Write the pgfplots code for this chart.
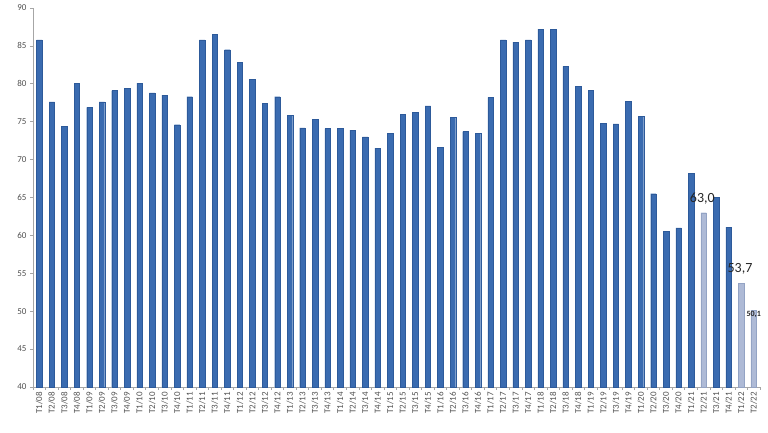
\documentclass[border=0pt]{standalone}
\usepackage{pgfplots}
\pgfplotsset{compat=1.18}
\usepackage{fontspec}
\setmainfont{Carlito}
\definecolor{barfill}{HTML}{3A6BB0}
\definecolor{baredge}{HTML}{2D5A9A}
\definecolor{lightfill}{HTML}{AEBAD6}
\definecolor{lightedge}{HTML}{93A3C4}
\definecolor{axisgray}{HTML}{A6A6A6}
\definecolor{ticktext}{HTML}{505050}
\begin{document}
\begin{tikzpicture}
\begin{axis}[
  scale only axis,
  width=727pt, height=379pt,
  ymin=40, ymax=90,
  xmin=-0.5, xmax=57.5,
  ytick={40,45,...,90},
  axis lines*=left,
  axis line style={axisgray, line width=0.7pt},
  tick style={axisgray, line width=0.7pt},
  tick align=outside,
  major tick length=3pt,
  minor tick length=3pt,
  xtick={0,...,57},
  major x tick style={draw=none},
  minor xtick={-0.5,0.5,...,57.5},
  xticklabels={T1/08,T2/08,T3/08,T4/08,T1/09,T2/09,T3/09,T4/09,T1/10,T2/10,T3/10,T4/10,T1/11,T2/11,T3/11,T4/11,T1/12,T2/12,T3/12,T4/12,T1/13,T2/13,T3/13,T4/13,T1/14,T2/14,T3/14,T4/14,T1/15,T2/15,T3/15,T4/15,T1/16,T2/16,T3/16,T4/16,T1/17,T2/17,T3/17,T4/17,T1/18,T2/18,T3/18,T4/18,T1/19,T2/19,T3/19,T4/19,T1/20,T2/20,T3/20,T4/20,T1/21,T2/21,T3/21,T4/21,T1/22,T2/22},
  xticklabel style={rotate=90, anchor=east, font=\fontsize{9}{9}\selectfont, text=ticktext, inner sep=2pt},
  yticklabel style={font=\fontsize{9}{9}\selectfont, text=ticktext},
  /pgf/number format/assume math mode=true,
  ybar, bar width=5.5pt, bar shift=0pt,
  clip=false,
]
\addplot[draw=baredge, line width=0.3pt, fill=barfill] coordinates {
(0,85.8) (1,77.6) (2,74.4) (3,80.1) (4,76.9) (5,77.6) (6,79.1) (7,79.4)
(8,80.1) (9,78.8) (10,78.5) (11,74.6) (12,78.3) (13,85.8) (14,86.5) (15,84.5)
(16,82.8) (17,80.6) (18,77.4) (19,78.3) (20,75.8) (21,74.2) (22,75.3) (23,74.1)
(24,74.1) (25,73.9) (26,73.0) (27,71.5) (28,73.5) (29,76.0) (30,76.2) (31,77.1)
(32,71.6) (33,75.6) (34,73.7) (35,73.5) (36,78.2) (37,85.8) (38,85.5) (39,85.8)
(40,87.2) (41,87.2) (42,82.3) (43,79.7) (44,79.1) (45,74.8) (46,74.7) (47,77.7)
(48,75.7) (49,65.5) (50,60.5) (51,61.0) (52,68.2) (54,65.0) (55,61.1)
};
\addplot[draw=lightedge, line width=0.3pt, fill=lightfill] coordinates {
(53,63.0) (56,53.7) (57,50.1)
};
\node[font=\fontsize{14}{14}\selectfont, text=black!85] at (axis cs:52.9,64.9) {63,0};
\node[font=\fontsize{14}{14}\selectfont, text=black!85] at (axis cs:55.9,55.6) {53,7};
\node[font=\bfseries\fontsize{8}{8}\selectfont, text=black!85] at (axis cs:57.0,49.6) {50,1};
\end{axis}
\path ([xshift=-33pt,yshift=-45pt]current axis.south west) rectangle ([xshift=8pt,yshift=8pt]current axis.north east);
\end{tikzpicture}
\end{document}
